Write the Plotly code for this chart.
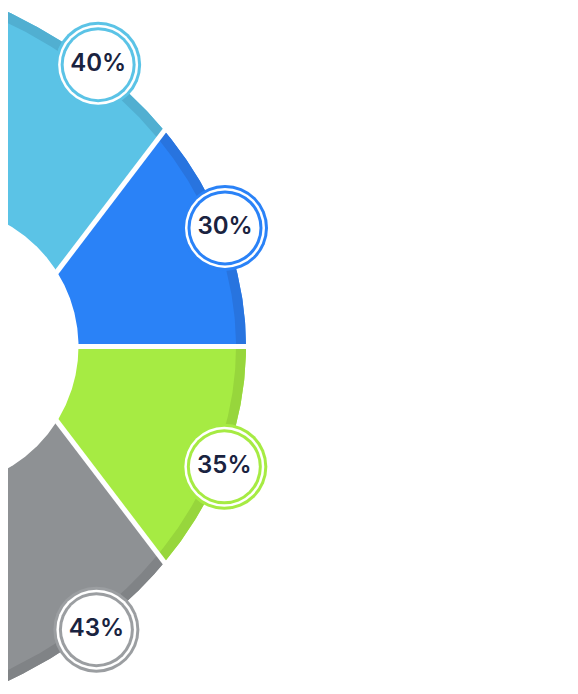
import numpy as np
import plotly.graph_objects as go

# segments from top to bottom
pct_labels = ["40%", "30%", "35%", "43%"]
edges_deg = [90, 52.7, 0, -52.7, -90]
fill_colors = ["#5BC3E6", "#2A82F7", "#A6EB43", "#8E9194"]
rim_colors = ["#51AFD1", "#2874DF", "#97D63C", "#808386"]
ring_colors = ["#5BC3E6", "#2A82F7", "#A6EB43", "#9B9EA1"]

# where the badges sit along the outer edge (degrees from the spoke centre)
label_deg = [70.8, 27.8, -28.2, -71.2]

W, H = 578, 694
PAD = 8                          # page body margin around the plot div
CY = 346.5                       # pixel row of the spoke centre
OUT_C, OUT_A, OUT_B = -240.0, 486.0, 389.0   # outer edge (ellipse)
IN_C, IN_R = -62.0, 140.5                    # hole (circle)
RIM = 10
GAP = 5


def hit(th, cx, a, b):
    # distance from spoke centre to an ellipse centred at (cx, 0)
    c, s = np.cos(th), np.sin(th)
    qa = c**2 / a**2 + s**2 / b**2
    qb = -2 * c * cx / a**2
    qc = cx**2 / a**2 - 1
    return (-qb + np.sqrt(qb**2 - 4 * qa * qc)) / (2 * qa)


def band(t0, t1, r_out, r_in):
    th = np.radians(np.linspace(t0, t1, 120))
    ro = r_out(th)
    ri = r_in(th[::-1])
    x = np.concatenate([ro * np.cos(th), ri * np.cos(th[::-1])])
    y = np.concatenate([ro * np.sin(th), ri * np.sin(th[::-1])])
    return np.append(x, x[0]), np.append(y, y[0])


outer = lambda th: hit(th, OUT_C, OUT_A, OUT_B)
rim_in = lambda th: hit(th, OUT_C, OUT_A - RIM, OUT_B - RIM)
hole = lambda th: hit(th, IN_C, IN_R, IN_R)

fig = go.Figure()

for i in range(len(pct_labels)):
    t0, t1 = edges_deg[i + 1], edges_deg[i]
    x, y = band(t0, t1, outer, hole)
    fig.add_trace(go.Scatter(x=x, y=y, mode="lines", fill="toself",
                             fillcolor=fill_colors[i], line=dict(width=0),
                             hoverinfo="skip"))
    x, y = band(t0, t1, outer, rim_in)
    fig.add_trace(go.Scatter(x=x, y=y, mode="lines", fill="toself",
                             fillcolor=rim_colors[i], line=dict(width=0),
                             hoverinfo="skip"))

# white cuts between segments
for e in edges_deg[1:-1]:
    th = np.radians(e)
    t = np.array([hole(th) - 3, outer(th) + 3])
    fig.add_trace(go.Scatter(x=t * np.cos(th), y=t * np.sin(th), mode="lines",
                             line=dict(color="white", width=GAP), hoverinfo="skip"))

# badges
lt = np.radians(label_deg)
lr = outer(lt) + 2
lx, ly = lr * np.cos(lt), lr * np.sin(lt)
for size, col in [(86, ring_colors), (80, "white"), (75, ring_colors), (69, "white")]:
    fig.add_trace(go.Scatter(x=lx, y=ly, mode="markers", hoverinfo="skip",
                             marker=dict(size=size, color=col, line=dict(width=0))))
fig.add_trace(go.Scatter(x=lx, y=ly, mode="text", text=pct_labels, hoverinfo="skip",
                         textfont=dict(family="Inter", size=24, color="#1A2340", weight=600)))

# the div starts PAD px into the page, so shift the visible window to match
fig.update_layout(
    width=W - PAD, height=H - PAD,
    margin=dict(l=0, r=0, t=0, b=0),
    paper_bgcolor="white", plot_bgcolor="white",
    showlegend=False,
    xaxis=dict(range=[PAD, W], visible=False, fixedrange=True),
    yaxis=dict(range=[CY - H, CY - PAD], visible=False, fixedrange=True),
)

fig.write_html("out.html")
